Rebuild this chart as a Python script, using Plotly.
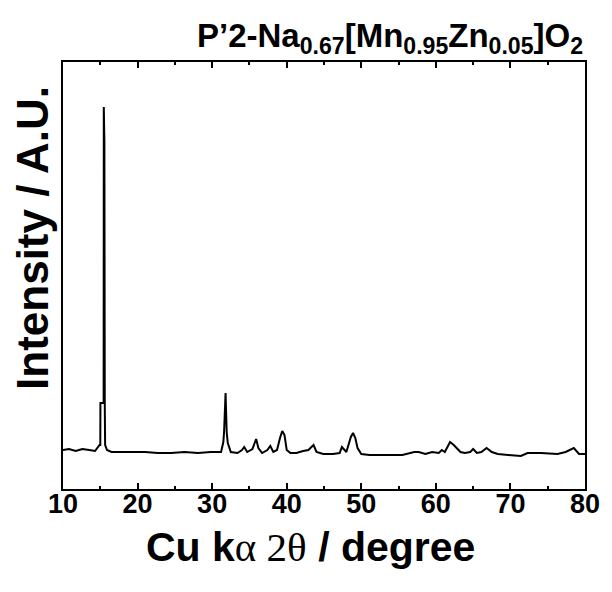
#%%
import numpy as np
import pandas as pd
import plotly.graph_objects as go

#%%
# XRD pattern (2theta in degree, intensity in arbitrary units)
two_theta = [10.0, 10.8, 11.7, 12.6, 13.5, 14.3, 14.9, 15.0, 15.02, 15.45, 15.47, 15.55, 15.6, 15.65,
             15.9, 16.5, 17.9, 19.2, 21.0, 22.7, 24.5, 26.3, 28.1, 29.8, 31.2, 31.5, 31.6,
             31.8, 31.95, 32.1, 32.5, 33.4, 34.0, 34.3, 34.7, 35.4, 35.9, 36.2, 36.7, 37.4,
             37.8, 38.2, 38.7, 39.1, 39.4, 39.7, 40.0, 40.5, 41.3, 42.2, 42.9, 43.6, 44.0,
             44.9, 46.2, 47.1, 47.4, 48.0, 48.6, 48.9, 49.2, 49.5, 50.0, 51.1, 53.3, 55.5,
             57.1, 57.7, 58.6, 59.5, 60.4, 60.8, 61.2, 61.6, 61.9, 62.4, 62.8, 63.3, 63.9,
             64.6, 65.0, 65.5, 66.1, 66.8, 67.5, 68.3, 69.7, 71.4, 72.3, 74.1, 76.3, 77.4,
             78.5, 79.2, 80.0]
intensity = [39, 40, 38, 40, 39, 38, 44, 44, 86, 86, 382, 347, 86, 44,
             39, 37, 37, 37, 37, 36, 36, 37, 36, 37, 37, 47, 57,
             96, 57, 46, 37, 36, 39, 42, 37, 40, 50, 41, 36, 39,
             43, 37, 39, 51, 58, 54, 39, 36, 36, 38, 39, 44, 37,
             35, 35, 36, 42, 37, 52, 56, 51, 41, 35, 34, 34, 34,
             37, 37, 35, 37, 36, 39, 37, 42, 47, 44, 41, 37, 36,
             37, 40, 36, 37, 41, 37, 35, 34, 33, 36, 36, 35, 37,
             41, 35, 35]

x_ticks = [10, 20, 30, 40, 50, 60, 70, 80]

df = pd.DataFrame({"two_theta": two_theta, "intensity": intensity})

#%%
fig = go.Figure()
fig.add_trace(go.Scatter(x=df["two_theta"], y=df["intensity"], mode="lines",
                         line=dict(color="black", width=2), showlegend=False))

fnt = "Liberation Sans, Arial, sans-serif"
# page body has an 8px margin, so the figure is a bit smaller than the window
fig.update_layout(
    width=604, height=584,
    margin=dict(l=55, r=19, t=54, b=103),
    paper_bgcolor="white", plot_bgcolor="white",
    font=dict(family=fnt, color="black"),
)
fig.update_xaxes(range=[10, 80], tickvals=x_ticks, ticktext=[str(t) for t in x_ticks],
                 ticks="inside", ticklen=6, tickwidth=2, tickcolor="black",
                 minor=dict(dtick=5, tick0=5, ticks="inside", ticklen=3, tickwidth=2, tickcolor="black"),
                 showline=True, linecolor="black", linewidth=2, mirror="ticks",
                 showgrid=False, zeroline=False, ticklabelstandoff=-10,
                 tickfont=dict(size=27, family=fnt, weight="bold"))
fig.update_yaxes(range=[0, 427], showticklabels=False, ticks="",
                 showline=True, linecolor="black", linewidth=2, mirror=True,
                 showgrid=False, zeroline=False)

# titles as annotations
fig.add_annotation(text="<b>Cu k</b><span style='font-family:Liberation Serif'>α 2θ</span><b> / degree</b>",
                   xref="paper", yref="paper", x=0.475, y=0, yshift=-58,
                   xanchor="center", yanchor="middle", showarrow=False,
                   font=dict(size=41, family=fnt))
fig.add_annotation(text="<b>Intensity / A.U.</b>", textangle=-90,
                   xref="paper", yref="paper", x=0, y=0.588, xshift=-30,
                   xanchor="center", yanchor="middle", showarrow=False,
                   font=dict(size=44, family=fnt))
fig.add_annotation(text="<b>P’2-Na<sub>0.67</sub>[Mn<sub>0.95</sub>Zn<sub>0.05</sub>]O<sub>2</sub></b>",
                   xref="paper", yref="paper", x=1.0, y=1, yshift=24,
                   xanchor="right", yanchor="middle", showarrow=False,
                   font=dict(size=33, family=fnt))

fig.write_html("out.html")
